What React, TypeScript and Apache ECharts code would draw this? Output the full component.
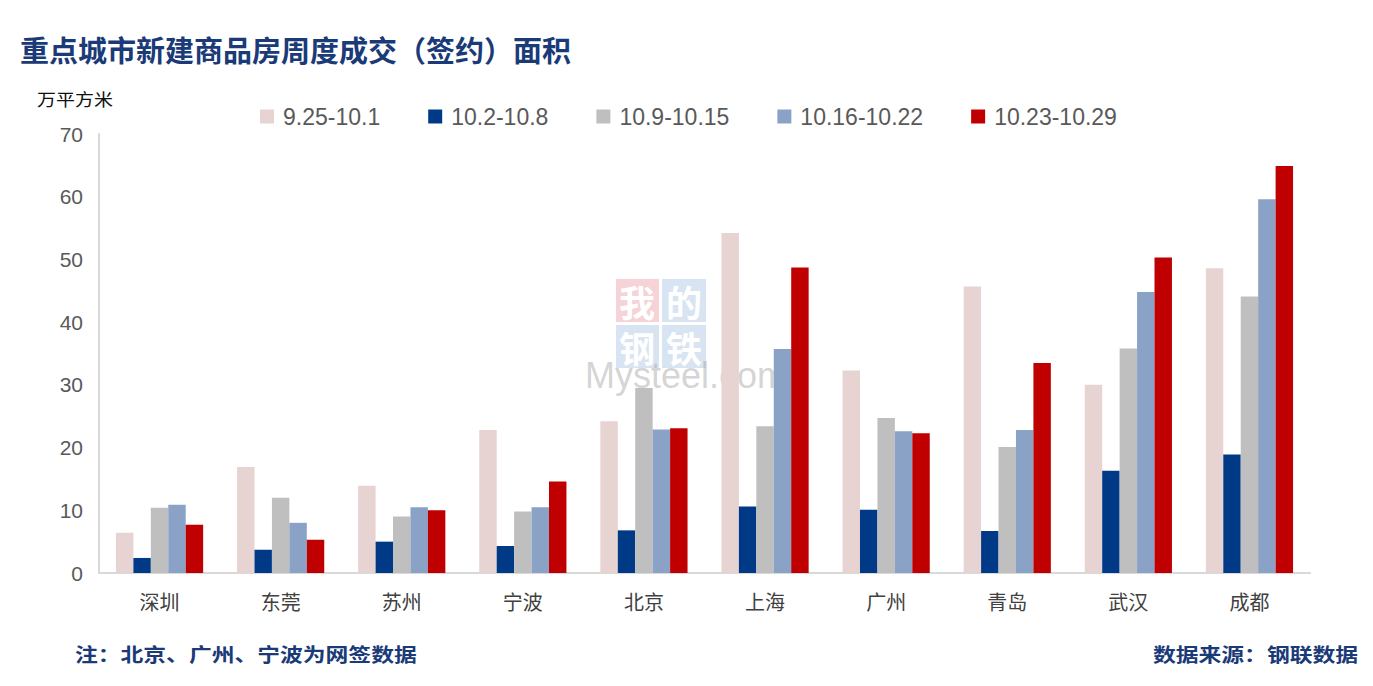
import React, { useEffect, useRef } from "react";
import * as echarts from "echarts";

const categories = ["深圳", "东莞", "苏州", "宁波", "北京", "上海", "广州", "青岛", "武汉", "成都"];
const seriesNames = ["9.25-10.1", "10.2-10.8", "10.9-10.15", "10.16-10.22", "10.23-10.29"];
const week1 = [6.4, 16.9, 13.9, 22.8, 24.2, 54.2, 32.3, 45.7, 30.0, 48.6];
const week2 = [2.4, 3.7, 5.0, 4.3, 6.8, 10.6, 10.1, 6.7, 16.3, 18.9];
const week3 = [10.4, 12.0, 9.0, 9.8, 29.5, 23.4, 24.7, 20.1, 35.8, 44.1];
const week4 = [10.9, 8.0, 10.5, 10.5, 22.9, 35.7, 22.6, 22.8, 44.8, 59.6];
const week5 = [7.7, 5.3, 10.0, 14.6, 23.1, 48.7, 22.3, 33.5, 50.3, 64.9];
const colors = ["#E8D3D3", "#003A87", "#BFBFBF", "#8AA2C6", "#C00000"];
const yTicks = [0, 10, 20, 30, 40, 50, 60, 70];

export default function App() {
  const ref = useRef<HTMLDivElement>(null);
  useEffect(() => {
    if (!ref.current) return;
    const chart = echarts.init(ref.current, null, { renderer: "svg" });
    const data = [week1, week2, week3, week4, week5];
    const tileText = (t: string, x: number, y: number) => ({
      type: "text",
      x,
      y,
      style: {
        text: t,
        fontSize: 36,
        fontWeight: "bold",
        fill: "#fff",
        align: "center",
        verticalAlign: "middle",
        fontFamily: "Noto Sans CJK SC",
      },
    });
    chart.setOption({
      animation: false,
      backgroundColor: "#fff",
      title: {
        text: "重点城市新建商品房周度成交（签约）面积",
        left: 15,
        top: 29,
        textStyle: {
          fontFamily: "Noto Sans CJK SC",
          fontWeight: "bold",
          fontSize: 29,
          color: "#1A3A78",
        },
      },
      legend: {
        top: 100,
        left: 255,
        itemWidth: 14,
        itemHeight: 14,
        itemGap: 48,
        icon: "rect",
        textStyle: {
          fontSize: 23,
          color: "#595959",
          fontFamily: "Liberation Sans",
          padding: [0, 0, 0, 4],
        },
        data: seriesNames,
      },
      grid: { left: 99, right: 63, top: 134, bottom: 113, containLabel: false },
      xAxis: {
        type: "category",
        data: categories,
        axisLine: { lineStyle: { color: "#D9D9D9", width: 2 } },
        axisTick: { show: false },
        axisLabel: { fontSize: 20, color: "#404040", margin: 18, fontFamily: "Noto Sans CJK SC" },
      },
      yAxis: {
        type: "value",
        min: yTicks[0],
        max: yTicks[yTicks.length - 1],
        interval: 10,
        axisLine: { show: true, lineStyle: { color: "#D9D9D9", width: 2 } },
        axisTick: { show: false },
        splitLine: { show: false },
        axisLabel: { fontSize: 21, color: "#595959", margin: 16, fontFamily: "Liberation Sans" },
      },
      series: seriesNames.map((name, i) => ({
        name,
        type: "bar",
        data: data[i],
        barGap: "0%",
        barCategoryGap: "28%",
        itemStyle: { color: colors[i] },
      })),
      graphic: [
        {
          type: "text",
          x: 37,
          y: 90,
          scaleX: 1.12,
          style: { text: "万平方米", fontSize: 17, fill: "#111", fontFamily: "Noto Sans CJK SC" },
        },
        {
          type: "text",
          x: 75,
          y: 644,
          scaleX: 1.2,
          style: {
            text: "注：北京、广州、宁波为网签数据",
            fontSize: 19,
            fontWeight: "bold",
            fill: "#1A3A78",
            fontFamily: "Noto Sans CJK SC",
          },
        },
        {
          type: "text",
          x: 1358,
          y: 644,
          scaleX: 1.2,
          style: {
            text: "数据来源：钢联数据",
            fontSize: 19,
            fontWeight: "bold",
            fill: "#1A3A78",
            align: "right",
            fontFamily: "Noto Sans CJK SC",
          },
        },
        {
          type: "group",
          x: 585,
          y: 279,
          z: 100,
          children: [
            { type: "rect", shape: { x: 31, y: 0, width: 43, height: 43 }, style: { fill: "rgba(243,196,200,0.75)" } },
            { type: "rect", shape: { x: 77, y: 0, width: 44, height: 43 }, style: { fill: "rgba(200,216,236,0.7)" } },
            { type: "rect", shape: { x: 31, y: 46, width: 43, height: 43 }, style: { fill: "rgba(200,216,236,0.7)" } },
            { type: "rect", shape: { x: 77, y: 46, width: 44, height: 43 }, style: { fill: "rgba(200,216,236,0.7)" } },
            tileText("我", 52, 22),
            tileText("的", 99, 22),
            tileText("钢", 52, 68),
            tileText("铁", 99, 68),
            {
              type: "text",
              x: 0,
              y: 78,
              style: {
                text: "Mysteel.com",
                fontSize: 36,
                fill: "rgba(160,160,160,0.45)",
                fontFamily: "Liberation Sans",
              },
            },
          ],
        },
      ],
    });
    return () => chart.dispose();
  }, []);
  return <div ref={ref} style={{ width: 1373, height: 686, margin: -8 }} />;
}
